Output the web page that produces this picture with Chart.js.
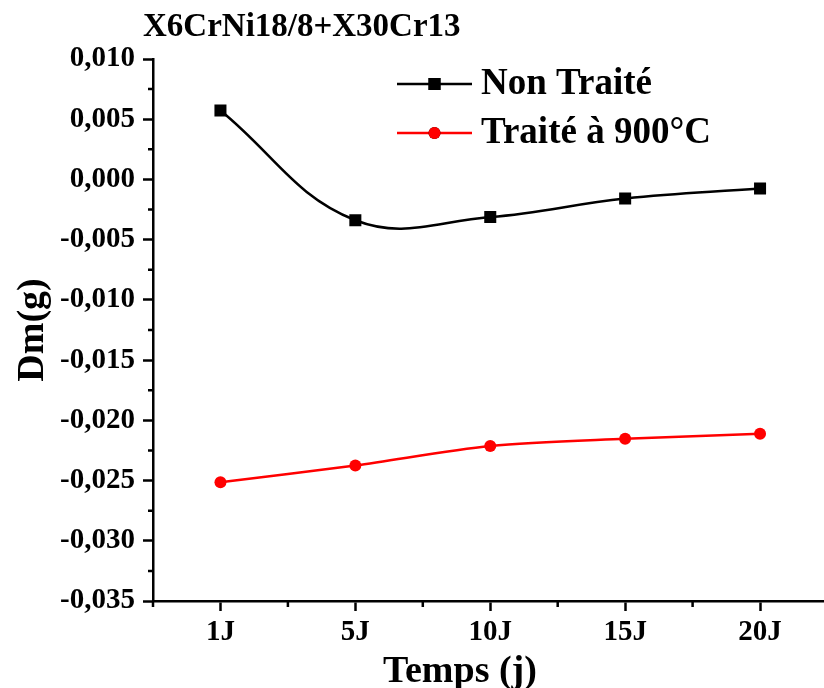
<!DOCTYPE html>
<html>
<head>
<meta charset="utf-8">
<script src="https://cdn.jsdelivr.net/npm/chart.js@4/dist/chart.umd.min.js"></script>
<style>
  html, body { margin: 0; padding: 0; background: #fff; overflow: hidden; }
  #wrap { position: relative; width: 824px; height: 688px; overflow: hidden; }
</style>
</head>
<body>
<div id="wrap"><canvas id="chart" width="836" height="688"></canvas></div>
<script>
const days = ['1J', '5J', '10J', '15J', '20J'];
const nonTraite = [0.00572, -0.00339, -0.00312, -0.00158, -0.00075];
const traite900 = [-0.02514, -0.02375, -0.02214, -0.02153, -0.02112];
const seriesNames = ['Non Traité', 'Traité à 900°C'];
const chartTitle = 'X6CrNi18/8+X30Cr13';
const xTitle = 'Temps (j)';
const yTitle = 'Dm(g)';

const serif = '"Liberation Serif", "Times New Roman", serif';

function fmt(v) {
    let r = Math.round(v * 1000) / 1000;
    if (r === 0) r = 0;
    return r.toFixed(3).replace('.', ',');
}

// minor ticks, outside titles and the inside legend
const extras = {
    id: 'extras',
    afterDraw(chart) {
        const ctx = chart.ctx;
        const area = chart.chartArea;
        const x = chart.scales.x;
        const y = chart.scales.y;
        ctx.save();
        ctx.strokeStyle = '#000';
        ctx.lineWidth = 2.5;
        ctx.beginPath();
        for (let v = -0.0325; v < 0.01; v += 0.005) {
            const py = y.getPixelForValue(v);
            ctx.moveTo(area.left - 5, py);
            ctx.lineTo(area.left, py);
        }
        const half = (x.getPixelForValue(1) - x.getPixelForValue(0)) / 2;
        for (let i = 0; i <= days.length; i++) {
            const px = x.getPixelForValue(i) - half;
            ctx.moveTo(px, area.bottom);
            ctx.lineTo(px, area.bottom + 6);
        }
        ctx.stroke();

        ctx.fillStyle = '#000';
        ctx.textBaseline = 'alphabetic';
        ctx.textAlign = 'left';
        ctx.font = 'bold 33px ' + serif;
        ctx.fillText(chartTitle, area.left - 10, 36);

        ctx.textAlign = 'center';
        ctx.font = 'bold 38px ' + serif;
        ctx.fillText(xTitle, area.left + 307, 682);

        // legend
        const rows = [area.top + 25, area.top + 74];
        chart.data.datasets.forEach((ds, i) => {
            const ly = rows[i];
            ctx.strokeStyle = ds.borderColor;
            ctx.lineWidth = 2.5;
            ctx.beginPath();
            ctx.moveTo(397, ly);
            ctx.lineTo(472, ly);
            ctx.stroke();
            Chart.helpers.drawPoint(ctx, {
                pointStyle: ds.pointStyle,
                radius: ds.pointRadius,
                borderWidth: 0
            }, 434.5, ly);
            ctx.fillStyle = ds.backgroundColor;
            ctx.fill();
            ctx.fillStyle = '#000';
            ctx.textAlign = 'left';
            ctx.textBaseline = 'middle';
            ctx.font = 'bold 37px ' + serif;
            ctx.fillText(ds.label, 481, ly);
        });
        ctx.restore();
    }
};

new Chart(document.getElementById('chart'), {
    type: 'line',
    data: {
        labels: days,
        datasets: [{
            label: seriesNames[0],
            data: nonTraite,
            borderColor: '#000000',
            backgroundColor: '#000000',
            borderWidth: 2.5,
            pointStyle: 'rect',
            pointRadius: 8.5,
            pointBorderWidth: 0,
            tension: 0.4
        }, {
            label: seriesNames[1],
            data: traite900,
            borderColor: '#ff0000',
            backgroundColor: '#ff0000',
            borderWidth: 2.5,
            pointStyle: 'circle',
            pointRadius: 6,
            pointBorderWidth: 0,
            tension: 0.3
        }]
    },
    options: {
        responsive: false,
        animation: false,
        devicePixelRatio: 1,
        layout: { padding: { top: 59, right: 2, left: 0, bottom: 0 } },
        plugins: {
            legend: { display: false },
            title: { display: false },
            tooltip: { enabled: false }
        },
        scales: {
            x: {
                offset: true,
                border: { display: true, color: '#000', width: 2.5 },
                grid: { drawOnChartArea: false, drawTicks: true, tickLength: 10, tickWidth: 2.5, tickColor: '#000' },
                ticks: { color: '#000', padding: 4, maxRotation: 0, font: { family: serif, size: 29, weight: 'bold' } },
                afterFit(scale) { scale.height = 87; }
            },
            y: {
                min: -0.035,
                max: 0.010,
                border: { display: true, color: '#000', width: 2.5 },
                grid: { drawOnChartArea: false, drawTicks: true, tickLength: 10, tickWidth: 2.5, tickColor: '#000' },
                ticks: {
                    stepSize: 0.005,
                    color: '#000',
                    padding: 8,
                    font: { family: serif, size: 29, weight: 'bold' },
                    callback: (v) => fmt(v)
                },
                title: {
                    display: true,
                    text: yTitle,
                    color: '#000',
                    padding: { top: 10, bottom: 0 },
                    font: { family: serif, size: 38, weight: 'bold' }
                },
                afterFit(scale) { scale.width = 153; }
            }
        }
    },
    plugins: [extras]
});
</script>
</body>
</html>
